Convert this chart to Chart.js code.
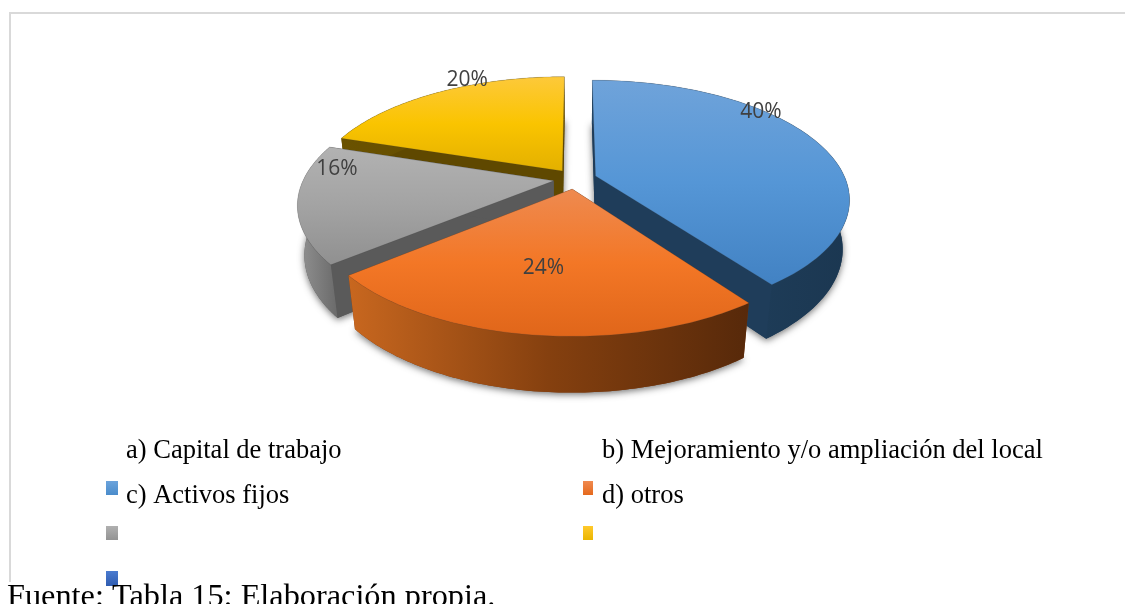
<!DOCTYPE html>
<html><head><meta charset="utf-8">
<style>html,body{margin:0;padding:0;background:#fff}canvas{display:block}</style>
<script src="https://cdn.jsdelivr.net/npm/chart.js@4"></script>
</head><body>
<canvas id="c" width="1125" height="604" style="width:1125px;height:604px"></canvas>
<script>
// ---- data ----
const categories = ["a) Capital de trabajo", "b) Mejoramiento y/o ampliación del local", "c) Activos fijos", "d) otros"];
const values = [40, 24, 16, 20];
const sourceNote = "Fuente: Tabla 15: Elaboración propia.";
// ---- styles ----
const baseColors = ["#5b9bd5", "#ed7d31", "#a5a5a5", "#ffc000"];
const topStops = [
  ["#6fa3da", "#5596d6", "#4282c3"],
  ["#ee8a50", "#f37726", "#e0661a"],
  ["#b2b2b2", "#a3a3a3", "#909090"],
  ["#fdc93a", "#fac400", "#e3b000"]
];
const wallStops = [
  ["#234564", "#1b3751"],
  ["#c8671f", "#85400f", "#57290a"],
  ["#939393", "#6a6a6a"],
  ["#6a5200", "#5f4800"]
];
const cutColors = ["#1f3d5a", "#7a3a10", "#5a5a5a", "#5f4800"];
const drawOrder = [3, 2, 0, 1];
const labelAngles = [50, 189.5, 277, 334];
const labelRadii = [0.985, 0.6, 0.89, 1.06];
const legendMarkers = [
  ["#6ba3dc", "#4a8ccb"], ["#f08a50", "#e5691c"], ["#b0b0b0", "#939393"], ["#ffc92c", "#eab600"], ["#4a7bd0", "#2f5cb0"]
];
const view = {cx: 575, cy: 179, a: 250, b: 115, p: 0.19, depth: 50, q: 0.025};

function project(X, Y, z) {
  const w = 1 + view.p * Y + (z ? view.q : 0);
  return [view.cx + view.a * X / w, view.cy + (-view.b * Y + (z ? view.depth : 0)) / w];
}
function slicePts(arc, z) {
  const th0 = arc.startAngle + Math.PI / 2, th1 = arc.endAngle + Math.PI / 2;
  const mid = (th0 + th1) / 2, e = arc.options.offset / arc.outerRadius;
  const ox = e * Math.sin(mid), oy = e * Math.cos(mid);
  const n = 90, rim = [];
  for (let i = 0; i <= n; i++) {
    const t = th0 + (th1 - th0) * i / n;
    rim.push(project(ox + Math.sin(t), oy + Math.cos(t), z));
  }
  return {apex: project(ox, oy, z), rim, ox, oy};
}
function poly(ctx, pts) {
  ctx.beginPath();
  pts.forEach((p, i) => i ? ctx.lineTo(p[0], p[1]) : ctx.moveTo(p[0], p[1]));
  ctx.closePath();
}
function grad(ctx, pts, stops, horizontal) {
  const xs = pts.map(p => p[0]), ys = pts.map(p => p[1]);
  const g = horizontal
    ? ctx.createLinearGradient(Math.min(...xs), 0, Math.max(...xs), 0)
    : ctx.createLinearGradient(0, Math.min(...ys), 0, Math.max(...ys));
  stops.forEach((s, i) => g.addColorStop(i / (stops.length - 1), s));
  return g;
}
const pie3d = {
  id: "pie3d",
  beforeDraw(chart) {
    const c = chart.ctx;
    c.save();
    c.fillStyle = "#d9d9d9";
    c.fillRect(9, 12, 1116, 2);
    c.fillRect(9, 12, 2, 570);
    c.restore();
  },
  beforeDatasetDraw(chart) {
    const c = chart.ctx, arcs = chart.getDatasetMeta(0).data;
    drawOrder.forEach(i => {
      const arc = arcs[i], up = slicePts(arc, 0), dn = slicePts(arc, 1);
      const topFace = [up.apex, ...up.rim], botFace = [dn.apex, ...dn.rim];
      c.save();
      c.shadowColor = "rgba(0,0,0,0.55)"; c.shadowBlur = 7; c.shadowOffsetY = 2; c.shadowOffsetX = 0;
      c.fillStyle = cutColors[i];
      poly(c, botFace); c.fill();
      c.restore();
      c.fillStyle = cutColors[i];
      const first = up.rim[0], last = up.rim[up.rim.length - 1];
      poly(c, [up.apex, first, dn.rim[0], dn.apex]); c.fill();
      poly(c, [up.apex, last, dn.rim[dn.rim.length - 1], dn.apex]); c.fill();
      const wall = [...up.rim, ...dn.rim.slice().reverse()];
      c.fillStyle = grad(c, wall, wallStops[i], true);
      poly(c, wall); c.fill();
      c.fillStyle = grad(c, topFace, topStops[i], false);
      poly(c, topFace); c.fill();
      c.strokeStyle = "rgba(60,60,60,0.25)"; c.lineWidth = 0.7; c.stroke();
    });
    return false;
  },
  afterDatasetsDraw(chart) {
    const c = chart.ctx, arcs = chart.getDatasetMeta(0).data;
    c.save();
    c.font = "21px 'Open Sans'";
    c.fillStyle = "#404040"; c.textAlign = "center"; c.textBaseline = "middle";
    values.forEach((v, i) => {
      const s = slicePts(arcs[i], 0), t = labelAngles[i] * Math.PI / 180, r = labelRadii[i];
      const p = project(s.ox + r * Math.sin(t), s.oy + r * Math.cos(t), 0);
      c.fillText(v + "%", p[0], p[1]);
    });
    // legend
    const markX = [[106, 12], [583, 10]], textX = [126, 602];
    const rowsY = [481, 526, 571];
    c.textAlign = "left"; c.textBaseline = "alphabetic";
    legendMarkers.forEach((col, i) => {
      const y = rowsY[i >> 1], h = i === 4 ? 15 : 14;
      const g = c.createLinearGradient(0, y, 0, y + h);
      g.addColorStop(0, col[0]); g.addColorStop(1, col[1]);
      c.fillStyle = g;
      c.fillRect(markX[i % 2][0], y, markX[i % 2][1], h);
    });
    c.fillStyle = "#000";
    c.font = "26.5px 'Liberation Serif'";
    c.fillText(categories[0], textX[0], 458);
    c.fillText(categories[1], textX[1], 458);
    c.fillText(categories[2], textX[0], 503);
    c.fillText(categories[3], textX[1], 503);
    c.font = "32.3px 'Liberation Serif'";
    c.fillText(sourceNote, 7, 606);
    c.restore();
  }
};
new Chart(document.getElementById("c"), {
  type: "pie",
  data: {labels: categories, datasets: [{data: values, backgroundColor: baseColors, offset: 13, borderWidth: 0}]},
  options: {
    responsive: false, animation: false, radius: 150,
    plugins: {legend: {display: false}, tooltip: {enabled: false}}
  },
  plugins: [pie3d]
});
</script>
</body></html>
